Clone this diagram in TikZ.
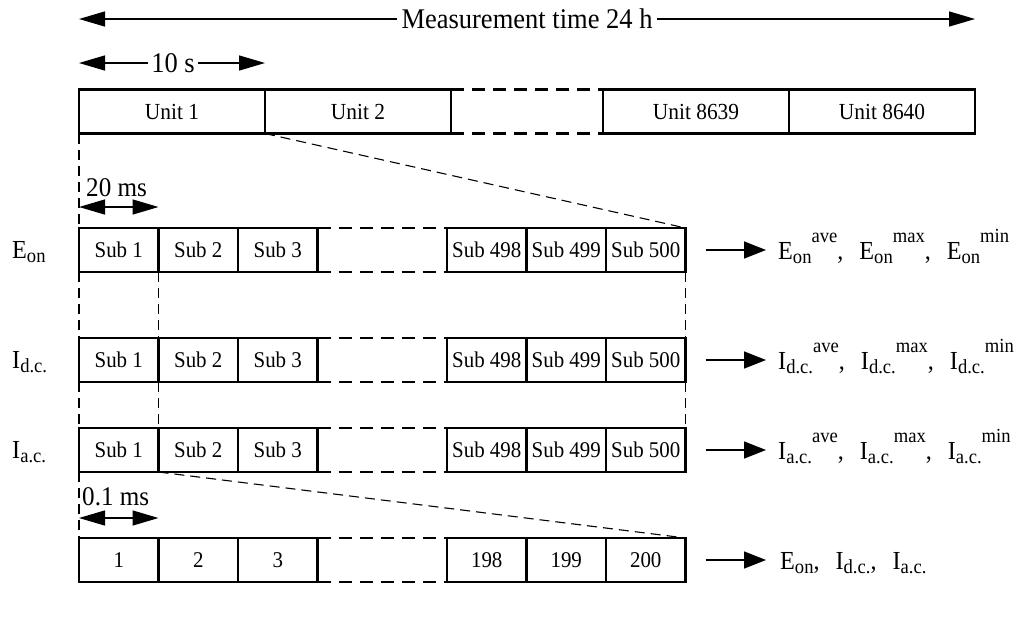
\documentclass[tikz,border=0pt]{standalone}
\usepackage{fontspec}
\setmainfont[FakeStretch=0.93]{Liberation Serif}
\usetikzlibrary{arrows.meta,calc}

\newcommand\fs[1]{\fontsize{#1}{#1}\selectfont}
\newcommand\lo[1]{\raisebox{-4pt}{\fs{20}#1}}
\newcommand\hi[1]{\raisebox{16.5pt}{\fs{20}#1}}
\newcommand\sep{,\hspace{16pt}}

% one row of cells: name prefix, centre y, text prefix, right-hand labels
\newcommand\cellrow[4]{%
  \foreach \k/\t in {1/1,2/2,3/3}
    \node[subcell] (#1\k) at ({79+(\k-0.5)*79.5},#2) {#3\t};
  \node[gapcell, minimum width=129.5pt] (#1g) at ({79+3*79.5+129.5/2},#2) {};
  \foreach \k/\t in {#4}
    \node[subcell] (#1\k) at ({79+129.5+(\k-0.5)*79.5},#2) {#3\t};
  \draw[gapedge] (#1g.north west) -- (#1g.north east);
  \draw[gapedge] (#1g.south west) -- (#1g.south east);
}

\begin{document}
\begin{tikzpicture}[x=1pt,y=-1pt,
  cell/.style={draw, line width=2.4pt, minimum height=44pt, inner sep=0pt,
    outer sep=0pt, font=\fs{22.5}},
  unitcell/.style={cell, minimum width=186pt, font=\fs{23}},
  subcell/.style={cell, minimum width=79.5pt},
  gapcell/.style={minimum height=44pt, inner sep=0pt, outer sep=0pt},
  gapedge/.style={line width=2.4pt, dash pattern=on 13pt off 8pt},
  guide/.style={line width=1.1pt, dash pattern=on 10pt off 6pt},
  dimline/.style={line width=1.4pt, -{Triangle[length=26pt,width=15pt]}},
  dim/.style={line width=1.4pt,
    {Triangle[length=26pt,width=15pt]}-{Triangle[length=26pt,width=15pt]}},
  res/.style={line width=1.5pt, -{Triangle[length=22pt,width=17pt]}},
  txt/.style={anchor=base west, inner sep=0pt, font=\fs{26}},
]
\useasboundingbox (0,0) rectangle (1019,635);

% units of 10 s over the day
\node[unitcell] (u1) at (172,111.5) {Unit 1};
\node[unitcell] (u2) at (358,111.5) {Unit 2};
\node[gapcell, minimum width=152pt] (ug) at (527,111.5) {};
\node[unitcell] (u3) at (696,111.5) {Unit 8639};
\node[unitcell] (u4) at (882,111.5) {Unit 8640};
\draw[gapedge] (ug.north west) -- (ug.north east);
\draw[gapedge] (ug.south west) -- (ug.south east);

% time spans
\node[font=\fs{28.5}, inner sep=4pt] (meas) at (527,19) {Measurement time 24 h};
\draw[dimline] (meas.west) -- (u1.west |- meas);
\draw[dimline] (meas.east) -- (u4.east |- meas);
\node[font=\fs{28.5}, inner sep=3pt] (ten) at (173,63) {10 s};
\draw[dimline] (ten.west) -- (u1.west |- ten);
\draw[dimline] (ten.east) -- (u1.east |- ten);

% sub-intervals of 20 ms
\cellrow{e}{250}{Sub }{4/498,5/499,6/500}
\cellrow{d}{360}{Sub }{4/498,5/499,6/500}
\cellrow{a}{450}{Sub }{4/498,5/499,6/500}
% samples of 0.1 ms
\cellrow{n}{560}{}{4/198,5/199,6/200}

\node[anchor=base west, inner sep=0pt, font=\fs{27}] (tw) at (86,196) {20 ms};
\draw[dim] ($(e1.north west)+(0,-21)$) -- ($(e1.north east)+(0,-21)$);
\node[anchor=base west, inner sep=0pt, font=\fs{27}] (pt) at (82,505) {0.1 ms};
\draw[dim] ($(n1.north west)+(0,-20)$) -- ($(n1.north east)+(0,-20)$);

% row labels
\node[txt] (le) at (12,258) {E\lo{on}};
\node[txt] (ld) at (12,368) {I\lo{d.c.}};
\node[txt] (la) at (12,458) {I\lo{a.c.}};

% guide lines
\draw[guide] (u1.south west) -- (e1.north west);
\draw[guide] (e1.south west) -- (d1.north west);
\draw[guide] (d1.south west) -- (a1.north west);
\draw[guide] (a1.south west) -- (n1.north west);
\draw[guide] (e1.south east) -- (d1.north east);
\draw[guide] (d1.south east) -- (a1.north east);
\draw[guide] (e6.south east) -- (d6.north east);
\draw[guide] (d6.south east) -- (a6.north east);
\draw[guide] (u1.south east) -- (e6.north east);
\draw[guide] (a1.south east) -- (n6.north east);

% results
\node[txt] (re) at (778,259) {E\lo{on}\hi{ave}\sep E\lo{on}\hi{max}\sep E\lo{on}\hi{min}};
\node[txt] (rd) at (778,369) {I\lo{d.c.}\hi{ave}\sep I\lo{d.c.}\hi{max}\sep I\lo{d.c.}\hi{min}};
\node[txt] (ra) at (778,459) {I\lo{a.c.}\hi{ave}\sep I\lo{a.c.}\hi{max}\sep I\lo{a.c.}\hi{min}};
\node[txt] (rn) at (780,569) {E\lo{on}\sep I\lo{d.c.}\sep I\lo{a.c.}};
\draw[res] ($(e6.east)+(20,0)$) -- ($(re.west |- e6.east)+(-12,0)$);
\draw[res] ($(d6.east)+(20,0)$) -- ($(rd.west |- d6.east)+(-12,0)$);
\draw[res] ($(a6.east)+(20,0)$) -- ($(ra.west |- a6.east)+(-12,0)$);
\draw[res] ($(n6.east)+(20,0)$) -- ($(rn.west |- n6.east)+(-14,0)$);
\end{tikzpicture}
\end{document}
